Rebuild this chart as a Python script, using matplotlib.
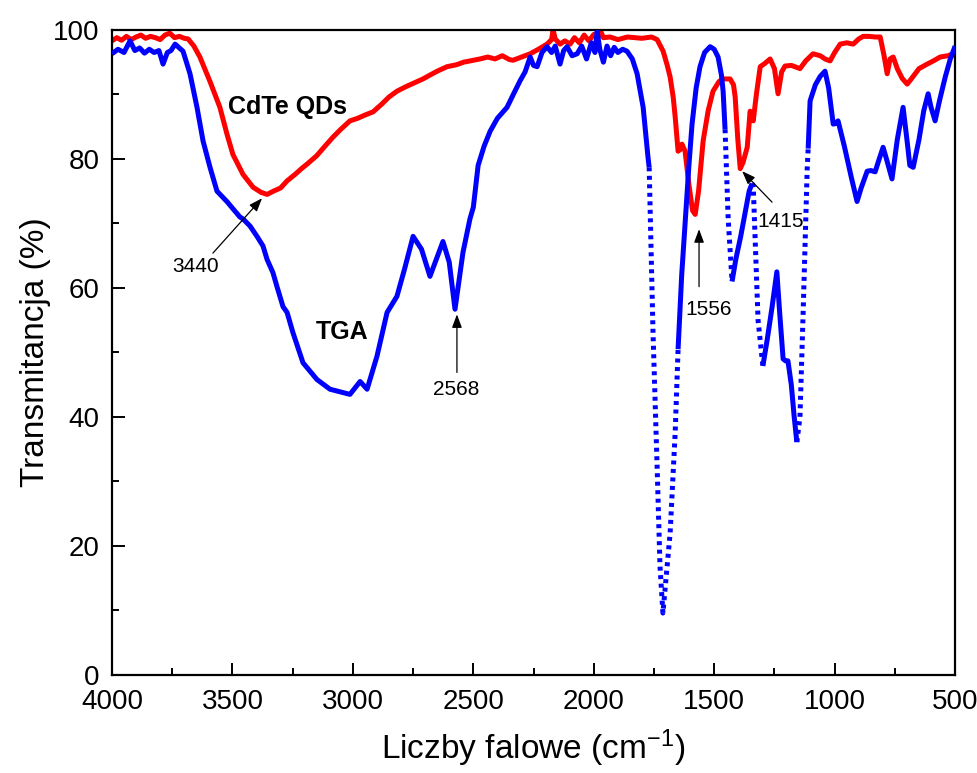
import numpy as np
import matplotlib
matplotlib.use("Agg")
import matplotlib.pyplot as plt

# CdTe QDs spectrum (red)
cdte_x = [4000, 3980, 3960, 3940, 3920, 3900, 3880, 3860, 3840, 3820, 3800, 3780,
          3760, 3740, 3720, 3700, 3684, 3660, 3635, 3613, 3593, 3552, 3523, 3498,
          3456, 3414, 3380, 3356, 3330, 3300, 3273, 3240, 3210, 3190, 3150, 3120,
          3082, 3050, 3012, 2980, 2950, 2916, 2880, 2850, 2817, 2780, 2750, 2709,
          2680, 2650, 2609, 2570, 2540, 2500, 2472, 2440, 2410, 2380, 2350, 2335,
          2300, 2264, 2230, 2194, 2175, 2169, 2160, 2140, 2120, 2098, 2080, 2060,
          2040, 2020, 2000, 1985, 1974, 1960, 1932, 1900, 1860, 1800, 1760, 1737,
          1712, 1695, 1683, 1670, 1662, 1650, 1640, 1634, 1621, 1605, 1590, 1579,
          1565, 1546, 1525, 1505, 1480, 1463, 1434, 1420, 1413, 1402, 1392, 1380,
          1363, 1351, 1338, 1325, 1309, 1290, 1268, 1250, 1235, 1220, 1206, 1180,
          1144, 1120, 1090, 1060, 1040, 1019, 1000, 977, 950, 923, 900, 882, 860,
          830, 811, 795, 782, 770, 757, 740, 720, 699, 680, 650, 616, 590, 562,
          530, 508, 500]
cdte_y = [98.3, 98.8, 98.4, 99.0, 98.5, 98.9, 99.2, 98.7, 99.0, 98.8, 98.5, 99.2,
          99.5, 98.8, 99.0, 98.7, 98.6, 97.5, 95.8, 93.8, 92.0, 88.0, 83.9, 80.7,
          77.6, 75.6, 74.8, 74.5, 75.0, 75.5, 76.6, 77.6, 78.6, 79.2, 80.5, 81.8,
          83.4, 84.6, 85.9, 86.3, 86.8, 87.3, 88.5, 89.6, 90.5, 91.2, 91.7, 92.4,
          93.0, 93.6, 94.3, 94.6, 95.0, 95.3, 95.5, 95.8, 95.5, 96.0, 95.4, 95.3,
          95.8, 96.3, 97.0, 97.8, 98.5, 100.0, 98.6, 97.8, 98.3, 97.8, 98.8, 98.0,
          99.2, 98.3, 99.3, 98.6, 100.0, 98.8, 98.9, 98.5, 98.9, 98.7, 98.9, 98.5,
          96.7, 94.5, 92.7, 89.5, 86.5, 81.2, 81.5, 82.3, 81.2, 76.0, 72.0, 71.4,
          75.0, 82.8, 87.5, 90.5, 92.0, 92.4, 92.4, 91.5, 89.6, 83.0, 78.5, 79.5,
          81.8, 87.4, 85.9, 90.0, 94.3, 94.8, 95.5, 94.0, 90.1, 93.5, 94.4, 94.5,
          94.0, 95.2, 96.3, 96.0, 95.5, 95.2, 96.5, 97.8, 98.0, 97.8, 98.6, 99.0, 99.0,
          98.9, 98.9, 96.0, 93.2, 95.5, 95.8, 94.0, 92.5, 91.6, 92.5, 94.0, 94.7, 95.2, 95.8,
          96.0, 96.3, 96.0]

# TGA spectrum (blue)
tga_x = [4000, 3975, 3950, 3925, 3905, 3885, 3865, 3845, 3825, 3805, 3788, 3770,
         3755, 3738, 3720, 3705, 3676, 3647, 3622, 3593, 3564, 3523, 3469, 3456,
         3427, 3398, 3373, 3356, 3332, 3315, 3290, 3273, 3249, 3207, 3149, 3095,
         3012, 2970, 2941, 2900, 2858, 2817, 2785, 2750, 2715, 2680, 2626, 2600,
         2576, 2543, 2514, 2500, 2480, 2455, 2430, 2400, 2360, 2330, 2306, 2285,
         2264, 2250, 2235, 2215, 2194, 2175, 2160, 2140, 2125, 2111, 2090, 2069,
         2050, 2030, 2010, 1995, 1986, 1975, 1960, 1945, 1930, 1915, 1900, 1880,
         1862, 1840, 1820, 1795, 1775, 1770, 1754, 1737, 1725, 1713, 1683, 1662,
         1650, 1635, 1621, 1605, 1592, 1575, 1559, 1540, 1517, 1500, 1484, 1470,
         1463, 1455, 1442, 1426, 1410, 1390, 1370, 1355, 1343, 1338, 1318, 1298,
         1280, 1260, 1240, 1228, 1214, 1204, 1194, 1180, 1168, 1157, 1144, 1131,
         1114, 1110, 1102, 1080, 1060, 1040, 1025, 1006, 996, 986, 960, 930, 907,
         890, 865, 850, 832, 815, 799, 785, 762, 740, 716, 700, 688, 674, 650, 630,
         612, 600, 583, 565, 541, 520, 500]
tga_y = [96.3, 97.0, 96.5, 98.3, 96.8, 97.2, 96.4, 97.0, 96.5, 96.8, 94.7, 96.5,
         96.8, 97.8, 97.2, 96.7, 93.2, 88.0, 82.8, 78.7, 75.0, 73.4, 71.0, 70.7,
         69.6, 68.0, 66.5, 64.4, 62.4, 60.2, 57.1, 56.2, 53.1, 48.4, 45.8, 44.3,
         43.5, 45.5, 44.3, 49.4, 56.2, 58.7, 63.0, 68.0, 66.0, 61.8, 67.2, 64.0,
         56.7, 65.5, 70.7, 72.5, 79.0, 82.0, 84.3, 86.3, 88.0, 90.3, 92.1, 93.5,
         95.8, 94.5, 94.3, 96.5, 97.4, 96.5, 97.5, 94.7, 96.8, 97.4, 96.0, 96.3,
         97.5, 95.5, 98.0, 96.5, 99.8, 97.0, 95.0, 97.5, 96.0, 97.3, 96.5, 97.0,
         96.7, 95.5, 93.2, 88.0, 80.3, 78.7, 53.0, 32.3, 16.8, 9.6, 22.0, 37.6,
         50.5, 62.0, 70.0, 79.0, 85.4, 91.0, 94.3, 96.5, 97.4, 97.0, 95.8, 93.0,
         90.5, 84.6, 70.7, 61.0, 64.5, 68.0, 72.0, 75.0, 76.2, 75.8, 55.0, 47.9,
         52.0, 57.0, 62.5, 56.0, 49.0, 48.7, 48.7, 45.0, 40.0, 36.1, 40.0, 56.0,
         78.5, 81.6, 89.0, 91.5, 92.8, 93.6, 91.0, 85.4, 85.5, 85.9, 82.0, 77.0, 73.4,
         75.5, 78.1, 78.2, 78.0, 80.0, 81.8, 80.0, 76.9, 83.0, 88.0, 83.0, 79.0, 78.7, 83.0, 87.5,
         90.1, 88.0, 85.9, 89.0, 92.7, 95.5, 97.5]

# wavenumber ranges where the TGA trace is drawn dotted (steep, sparse parts)
tga_dotted = [(1770, 1650), (1455, 1426), (1343, 1298), (1157, 1110)]

plt.rcParams['font.family'] = ['Liberation Sans', 'DejaVu Sans']
plt.rcParams['mathtext.default'] = 'regular'

fig = plt.figure(figsize=(9.77, 7.73), dpi=100)
ax = fig.add_axes([0.1146, 0.1268, 0.863, 0.8345])

tx = np.array(tga_x, dtype=float)
ty = np.array(tga_y, dtype=float)

# solid part: blank out the interior of each dotted range
solid_y = ty.copy()
for hi, lo in tga_dotted:
    inside = (tx < hi) & (tx > lo)
    solid_y[inside] = np.nan
ax.plot(tx, solid_y, color='#0000ff', lw=3.6, solid_capstyle='butt', zorder=3)
for hi, lo in tga_dotted:
    m = (tx <= hi) & (tx >= lo)
    ax.plot(tx[m], ty[m], color='#0000ff', lw=3.6, linestyle=(0, (0.8, 0.9)),
            dash_capstyle='butt', zorder=3)

ax.plot(cdte_x, cdte_y, color='#ff0000', lw=3.6, zorder=2)

ax.set_xlim(4000, 500)
ax.set_ylim(0, 100)
ax.set_xticks(np.arange(4000, 499, -500))
ax.set_xticks(np.arange(3750, 500, -500), minor=True)
ax.set_yticks(np.arange(0, 101, 20))
ax.set_yticks(np.arange(10, 100, 20), minor=True)
ax.tick_params(which='both', direction='in', top=False, right=False, width=1.4)
ax.tick_params(which='major', length=9, labelsize=20)
ax.tick_params(axis='x', which='major', pad=10)
ax.tick_params(axis='y', which='major', pad=9)
ax.tick_params(which='minor', length=5)
for s in ax.spines.values():
    s.set_linewidth(1.6)

ax.set_xlabel('Liczby falowe (cm$^{-1}$)', fontsize=24)
ax.xaxis.set_label_coords(0.5, -0.082)
ax.set_ylabel('Transmitancja (%)', fontsize=24)
ax.yaxis.set_label_coords(-0.072, 0.5)

bold = dict(fontsize=18, fontweight='bold', ha='center', va='center')
ax.text(3273, 88, 'CdTe QDs', **bold)
ax.text(3045, 53.1, 'TGA', **bold)

arrow = dict(arrowstyle='-|>,head_length=0.8,head_width=0.3', color='black', lw=0.9,
             shrinkA=0, shrinkB=0)
note = dict(fontsize=15, ha='center', va='center')
ax.annotate('', xy=(3377, 73.9), xytext=(3581, 65.4), arrowprops=arrow)
ax.text(3655, 63.4, '3440', **note)
ax.annotate('', xy=(2568, 55.9), xytext=(2568, 46.9), arrowprops=arrow)
ax.text(2572, 44.3, '2568', **note)
ax.annotate('', xy=(1563, 69.1), xytext=(1563, 60.2), arrowprops=arrow)
ax.text(1525, 56.7, '1556', **note)
ax.annotate('', xy=(1384, 78.1), xytext=(1260, 73.3), arrowprops=arrow)
ax.text(1226, 70.3, '1415', **note)

fig.savefig('out.png', dpi=100)
